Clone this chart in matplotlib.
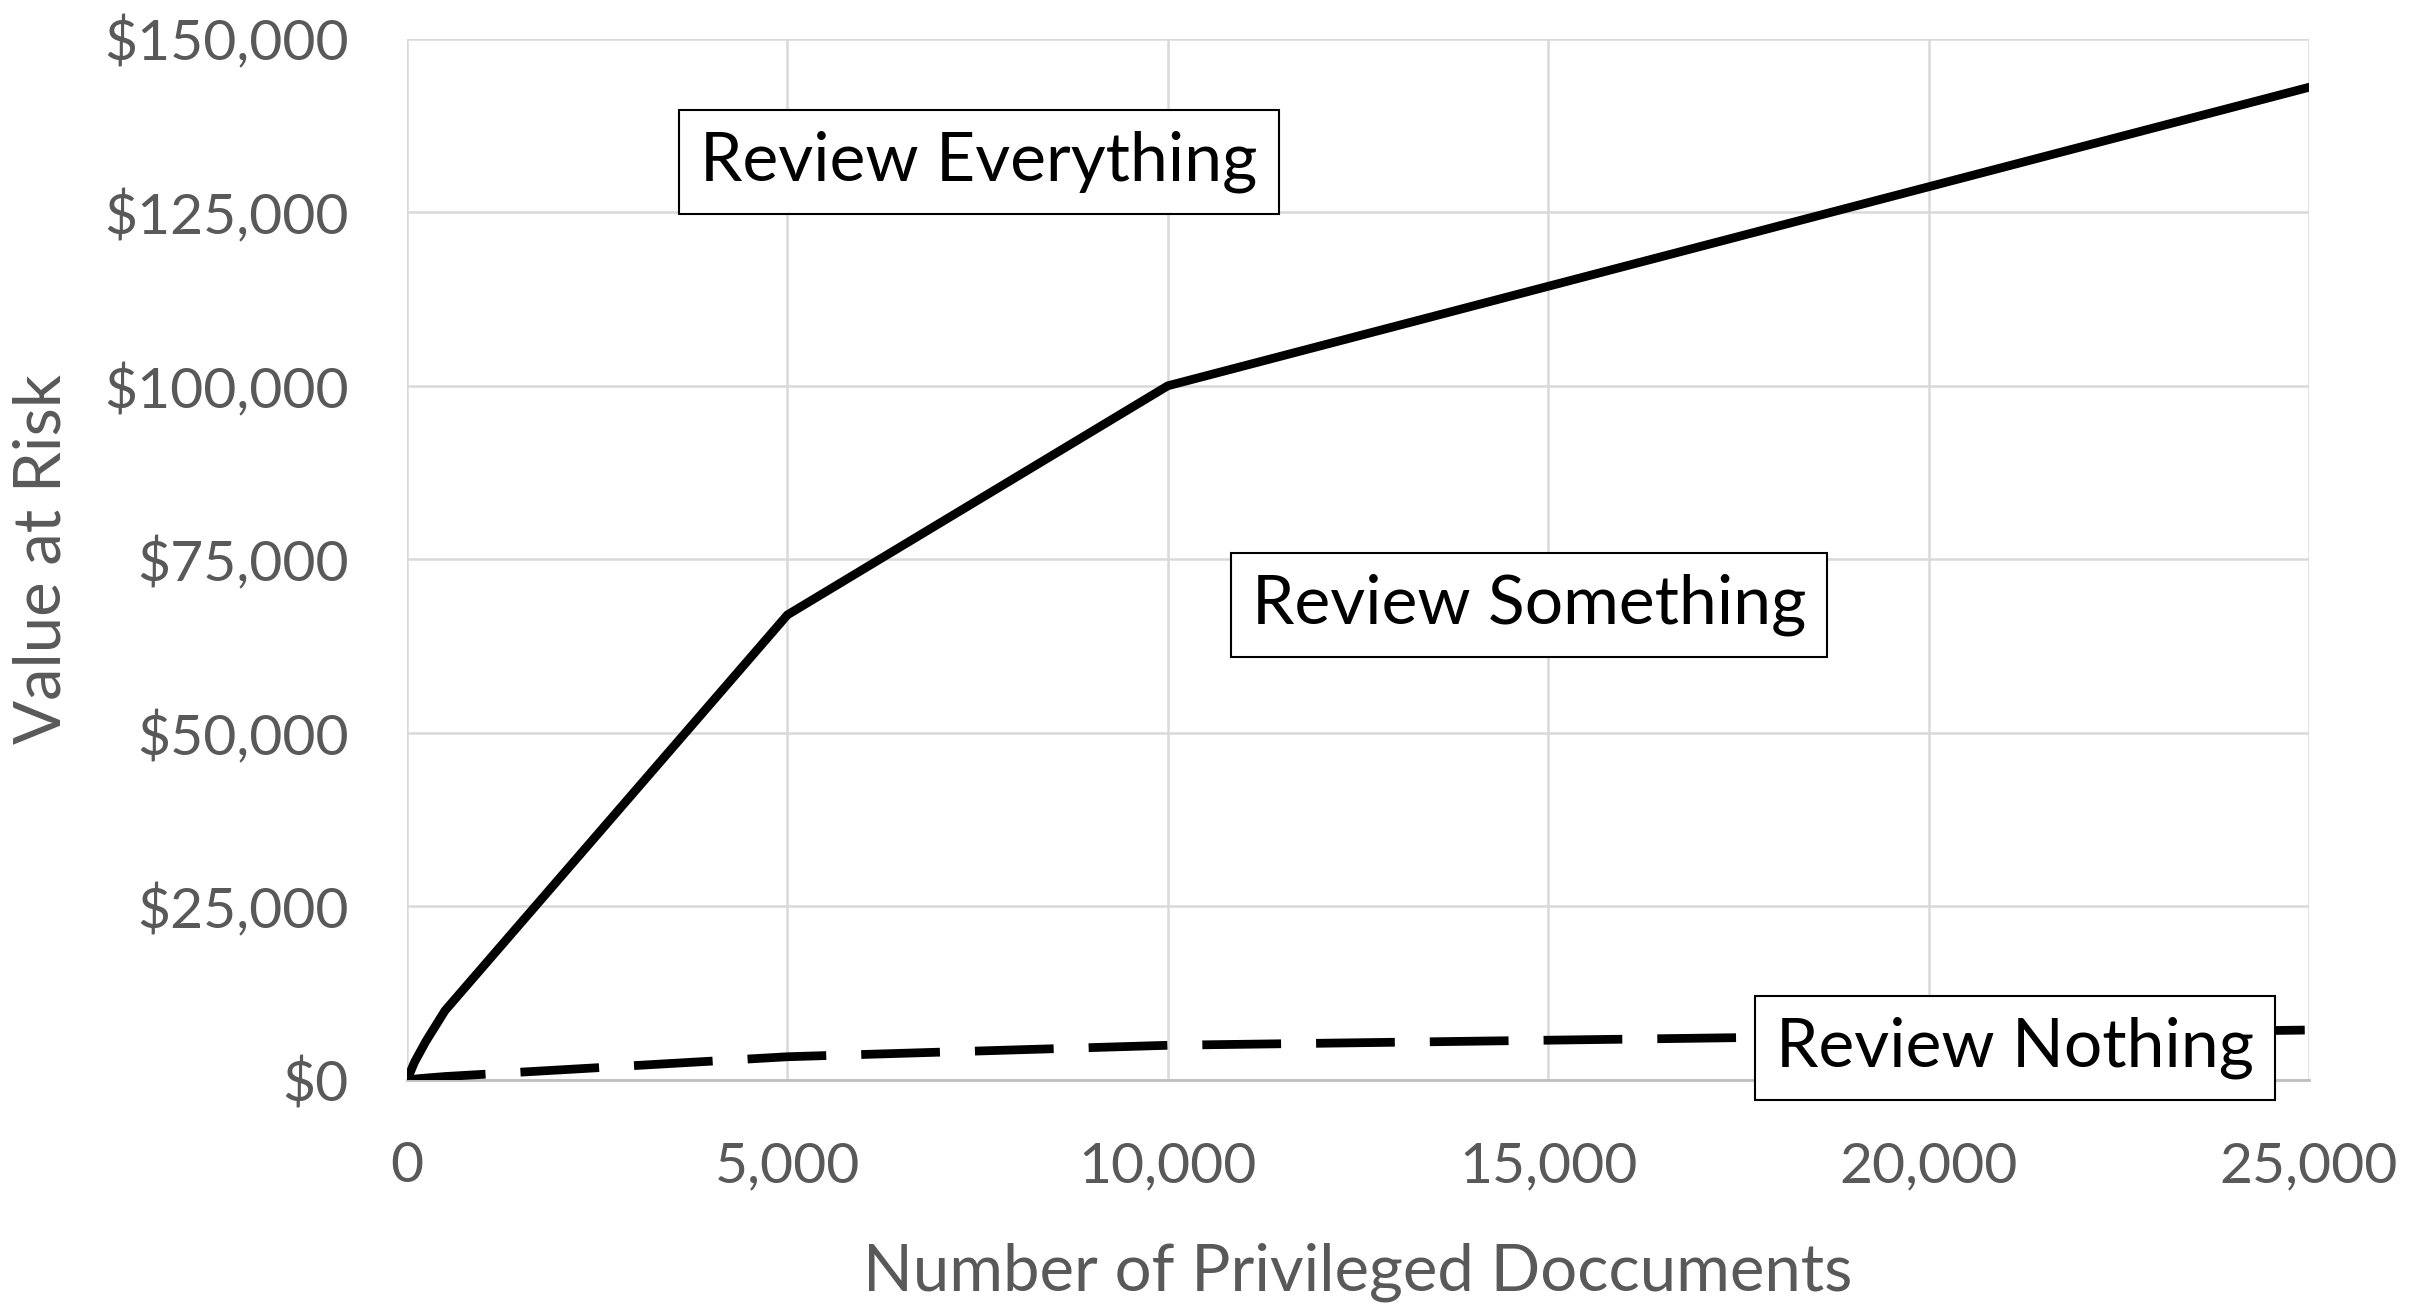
import matplotlib.pyplot as plt
from matplotlib.ticker import FuncFormatter

# number of privileged documents
docs = [0, 100, 250, 500, 5000, 10000, 25000]

# value at risk for each strategy
review_everything = [0, 2600, 5600, 10000, 67000, 100000, 143000]
review_nothing = [0, 130, 280, 500, 3350, 5000, 7200]

x_ticks = [0, 5000, 10000, 15000, 20000, 25000]
y_ticks = [0, 25000, 50000, 75000, 100000, 125000, 150000]

plt.rcParams['font.family'] = ['Lato', 'DejaVu Sans']
gray = '#595959'

fig = plt.figure(figsize=(24.3, 13.06), dpi=100)
ax = fig.add_axes([407 / 2430, 1 - 1080 / 1306, 1902 / 2430, 1041.3 / 1306])

# the two lines
ax.plot(docs, review_everything, color='black', lw=6.3, solid_joinstyle='miter', zorder=3)
ax.plot(docs, review_nothing, color='black', lw=6.3, dashes=(9, 4),
        dash_capstyle='butt', zorder=3)

ax.set_xlim(0, 25000)
ax.set_ylim(0, 150000)
ax.set_xticks(x_ticks)
ax.set_yticks(y_ticks)
ax.xaxis.set_major_formatter(FuncFormatter(lambda v, p: f'{int(v):,}'))
ax.yaxis.set_major_formatter(FuncFormatter(lambda v, p: f'${int(v):,}'))

# grid and spines
ax.grid(True, color='#d9d9d9', lw=1.8, zorder=0)
ax.set_axisbelow(True)
for s in ['top', 'right', 'left']:
    ax.spines[s].set_visible(False)
ax.spines['bottom'].set_color('#bfbfbf')
ax.spines['bottom'].set_linewidth(2)
ax.tick_params(length=0, labelsize=41, labelcolor=gray)
ax.tick_params(axis='x', pad=44)
ax.tick_params(axis='y', pad=42)

ax.set_xlabel('Number of Privileged Doccuments', fontsize=47, color=gray)
ax.xaxis.set_label_coords(0.5, -0.185)
ax.xaxis.label.set_verticalalignment('center')
ax.set_ylabel('Value at Risk', fontsize=47, color=gray)
ax.yaxis.set_label_coords(-0.192, 0.5)
ax.yaxis.label.set_verticalalignment('center')

# region labels
box = dict(boxstyle='square,pad=0.31', facecolor='white', edgecolor='black', lw=1.5)
ax.text(7518, 132240, 'Review Everything', fontsize=48.8, ha='center', va='center',
        bbox=box, zorder=5)
ax.text(14748, 68424, 'Review Something', fontsize=48.8, ha='center', va='center',
        bbox=box, zorder=5)
ax.text(21136, 4610, 'Review Nothing', fontsize=48.8, ha='center', va='center',
        bbox=box, zorder=5, clip_on=False)

fig.savefig('out.png', dpi=100)
